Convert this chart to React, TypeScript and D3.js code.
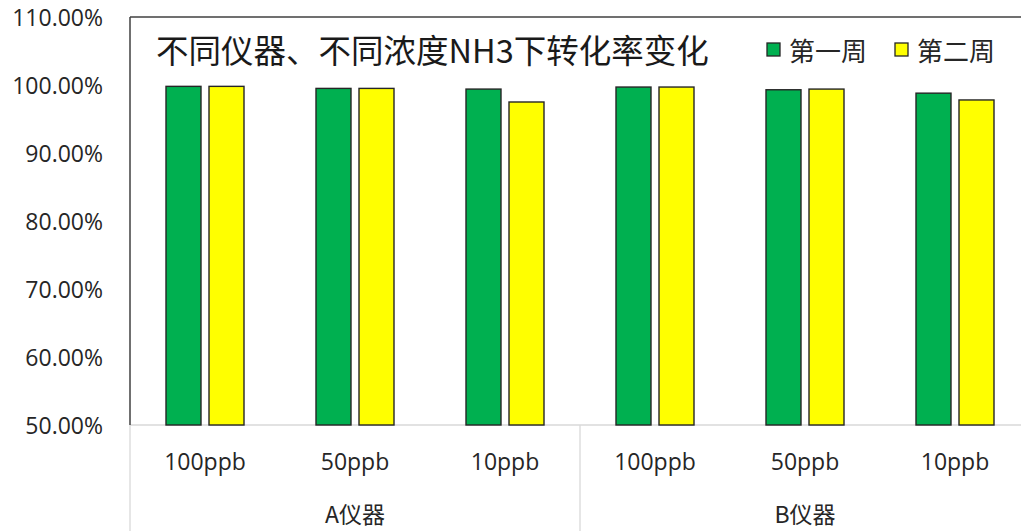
import React from "react";
import * as d3 from "d3";

const concentrations = ["100ppb", "50ppb", "10ppb", "100ppb", "50ppb", "10ppb"];
const instruments = ["A仪器", "B仪器"];
const seriesNames = ["第一周", "第二周"];
const week1 = [99.8, 99.5, 99.4, 99.7, 99.3, 98.8];
const week2 = [99.8, 99.5, 97.5, 99.7, 99.4, 97.8];
const yTicks = [50, 60, 70, 80, 90, 100, 110];
const title = "不同仪器、不同浓度NH3下转化率变化";

const W = 1021;
const H = 531;
const colors = ["#00B050", "#FFFF00"];
const FONT = "'Open Sans', 'Noto Sans CJK SC', sans-serif";
const CJK = "'Noto Sans CJK SC', 'Open Sans', sans-serif";

export default function App() {
  const left = 130;
  const right = 1030;
  const top = 17;
  const bottom = 425;
  const keys = concentrations.map((_, i) => String(i));
  const x = d3.scaleBand<string>().domain(keys).range([left, right]).paddingInner(0.48).paddingOuter(0.24);
  const xs = d3.scaleBand<string>().domain(seriesNames).range([0, x.bandwidth()]).paddingInner(8 / 43).paddingOuter(0);
  const y = d3.scaleLinear().domain([50, 110]).range([bottom, top]);
  const step = x.step();
  const fmt = d3.format(".2f");
  const series = [week1, week2];
  const groupWidth = step * 3;

  return (
    <svg width={W} height={H} style={{ position: "absolute", left: 0, top: 0, background: "#fff" }}>
      {d3.range(instruments.length + 1).map((i) => (
        <line key={"sep" + i} x1={left + i * groupWidth} x2={left + i * groupWidth} y1={bottom} y2={H} stroke="#D9D9D9" strokeWidth={1.3} />
      ))}
      <line x1={left} x2={right} y1={bottom} y2={bottom} stroke="#D9D9D9" strokeWidth={1.3} />
      {series.map((vals, si) =>
        vals.map((v, i) => (
          <rect
            key={`b${si}-${i}`}
            x={(x(String(i)) as number) + (xs(seriesNames[si]) as number)}
            y={y(v)}
            width={xs.bandwidth()}
            height={bottom - y(v)}
            fill={colors[si]}
            stroke="#262626"
            strokeWidth={1.4}
          />
        ))
      )}
      <line x1={left} x2={left} y1={top} y2={bottom} stroke="#404040" strokeWidth={1.5} />
      <line x1={left} x2={W} y1={top} y2={top} stroke="#404040" strokeWidth={1.5} />
      {yTicks.map((t) => (
        <text key={"yt" + t} x={103} y={y(t)} textAnchor="end" dominantBaseline="central" fontFamily={FONT} fontSize={23} fill="#262626">
          {fmt(t) + "%"}
        </text>
      ))}
      {concentrations.map((c, i) => (
        <text key={"c" + i} x={(x(String(i)) as number) + x.bandwidth() / 2} y={461} textAnchor="middle" dominantBaseline="central" fontFamily={FONT} fontSize={23} fill="#262626">
          {c}
        </text>
      ))}
      {instruments.map((g, i) => (
        <text key={"g" + i} x={left + i * groupWidth + groupWidth / 2} y={513} textAnchor="middle" dominantBaseline="central" fontFamily={CJK} fontSize={23} fill="#262626">
          {g}
        </text>
      ))}
      <text x={156} y={48} dominantBaseline="central" fontFamily={CJK} fontSize={32.5} fill="#1a1a1a">
        {title}
      </text>
      {seriesNames.map((s, i) => {
        const lx = [767, 895][i];
        return (
          <g key={"lg" + i}>
            <rect x={lx} y={43} width={13} height={13} fill={colors[i]} stroke="#262626" strokeWidth={1.3} />
            <text x={lx + 22} y={49} dominantBaseline="central" fontFamily={CJK} fontSize={26} fill="#262626">
              {s}
            </text>
          </g>
        );
      })}
    </svg>
  );
}
